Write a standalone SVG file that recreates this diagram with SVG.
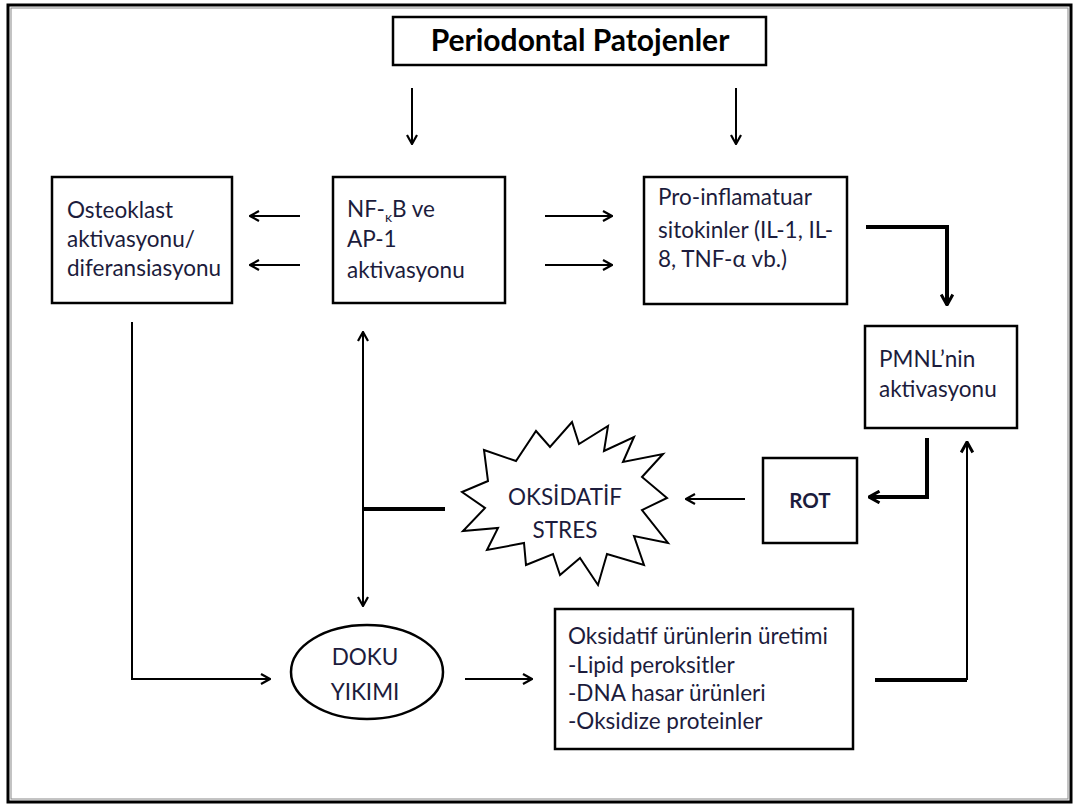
<svg xmlns="http://www.w3.org/2000/svg" width="1076" height="807" viewBox="0 0 1076 807">
<style>
.box{fill:#fff;stroke:#000;stroke-width:2.5}
.t{font-family:Lato,"Liberation Sans",sans-serif;font-size:22.5px;fill:#1c1c3c}
.c{stroke:#000;stroke-width:2;fill:none}
.k{stroke:#000;stroke-width:4;fill:none}
</style>
<defs>
<marker id="ah" viewBox="0 0 12 12" refX="11" refY="6" markerWidth="12" markerHeight="12" markerUnits="userSpaceOnUse" orient="auto">
<path d="M2,1 L11,6 L2,11" fill="none" stroke="#000" stroke-width="2.2"/>
</marker>
<marker id="ahb" viewBox="0 0 12 12" refX="11" refY="6" markerWidth="14" markerHeight="14" markerUnits="userSpaceOnUse" orient="auto">
<path d="M2,1 L11,6 L2,11" fill="none" stroke="#000" stroke-width="2.6"/>
</marker>
</defs>
<rect width="1076" height="807" fill="#fff"/>
<g id="frame">
<rect x="8" y="5" width="1063" height="797" fill="none" stroke="#000" stroke-width="3"/>
<rect x="11" y="8" width="1057" height="791" fill="none" stroke="#888" stroke-width="1"/>
</g>
<g id="connectors">
<line class="c" x1="412" y1="88" x2="412" y2="144" marker-end="url(#ah)"/>
<line class="c" x1="736" y1="88" x2="736" y2="144" marker-end="url(#ah)"/>
<line class="c" x1="300" y1="216" x2="250" y2="216" marker-end="url(#ah)"/>
<line class="c" x1="300" y1="265" x2="250" y2="265" marker-end="url(#ah)"/>
<line class="c" x1="545" y1="216" x2="612" y2="216" marker-end="url(#ah)"/>
<line class="c" x1="545" y1="265" x2="612" y2="265" marker-end="url(#ah)"/>
<polyline class="k" points="866,227 947,227 947,305" marker-end="url(#ahb)"/>
<polyline class="k" points="927,438 927,497 869,497" marker-end="url(#ahb)"/>
<line class="c" x1="745" y1="499" x2="686" y2="499" marker-end="url(#ah)"/>
<polyline class="k" points="875,680 967,680"/>
<line class="c" x1="967" y1="680" x2="967" y2="442" stroke-width="2.5" marker-end="url(#ahb)"/>
<line class="k" x1="363" y1="509" x2="445" y2="509"/>
<line class="c" x1="363" y1="509" x2="363" y2="332" marker-end="url(#ah)"/>
<line class="c" x1="363" y1="509" x2="363" y2="606" marker-end="url(#ah)"/>
<polyline class="c" points="132,322 132,679 270,679" stroke-width="3" marker-end="url(#ah)"/>
<line class="c" x1="465" y1="679" x2="532" y2="679" stroke-width="2.5" marker-end="url(#ah)"/>
</g>
<g id="title">
<rect class="box" x="393" y="17" width="373" height="48" stroke-width="4"/>
<text x="580" y="51" text-anchor="middle" font-family="Lato,'Liberation Sans',sans-serif" font-weight="bold" font-size="30" fill="#000">Periodontal Patojenler</text>
</g>
<g id="osteoklast">
<rect class="box" x="52" y="177" width="180" height="126"/>
<text class="t" x="67" y="218">Osteoklast</text>
<text class="t" x="67" y="247">aktivasyonu/</text>
<text class="t" x="67" y="276">diferansiasyonu</text>
</g>
<g id="nfkb">
<rect class="box" x="333" y="177" width="172" height="126"/>
<text class="t" x="347" y="217">NF-<tspan font-size="14" dy="5">κ</tspan><tspan dy="-5">B ve</tspan></text>
<text class="t" x="347" y="247">AP-1</text>
<text class="t" x="347" y="278">aktivasyonu</text>
</g>
<g id="sitokin">
<rect class="box" x="644" y="177" width="203" height="127"/>
<text class="t" x="658" y="205">Pro-inflamatuar</text>
<text class="t" x="658" y="238">sitokinler (IL-1, IL-</text>
<text class="t" x="658" y="267">8, TNF-α vb.)</text>
</g>
<g id="pmnl">
<rect class="box" x="865" y="326" width="152" height="102"/>
<text class="t" x="879" y="367">PMNL’nin</text>
<text class="t" x="879" y="397">aktivasyonu</text>
</g>
<g id="rot">
<rect class="box" x="763" y="458" width="94" height="85"/>
<text x="810" y="508" text-anchor="middle" font-family="Lato,'Liberation Sans',sans-serif" font-weight="bold" font-size="20.5" fill="#1c1c3c">ROT</text>
</g>
<g id="stres">
<polygon fill="#fff" stroke="#000" stroke-width="2" points="484,450 516,461 536,431 550,447 572,422 579,444 608,426 604,451 634,437 623,462 663,454 642,477 667,498 642,510 668,543 634,536 644,565 607,554 598,585 580,558 560,575 553,554 526,565 524,543 487,550 498,528 463,531 485,508 462,492 488,481"/>
<text class="t" x="565" y="505" text-anchor="middle" font-size="26">OKSİDATİF</text>
<text class="t" x="565" y="538" text-anchor="middle" font-size="26">STRES</text>
</g>
<g id="doku">
<ellipse cx="367" cy="672" rx="76" ry="47" fill="#fff" stroke="#000" stroke-width="2.5"/>
<text class="t" x="365" y="665" text-anchor="middle" font-size="26">DOKU</text>
<text class="t" x="365" y="700" text-anchor="middle" font-size="26">YIKIMI</text>
</g>
<g id="urunler">
<rect class="box" x="555" y="609" width="298" height="140"/>
<text class="t" x="568" y="644">Oksidatif ürünlerin üretimi</text>
<text class="t" x="568" y="673">-Lipid peroksitler</text>
<text class="t" x="568" y="701">-DNA hasar ürünleri</text>
<text class="t" x="568" y="729">-Oksidize proteinler</text>
</g>
</svg>
